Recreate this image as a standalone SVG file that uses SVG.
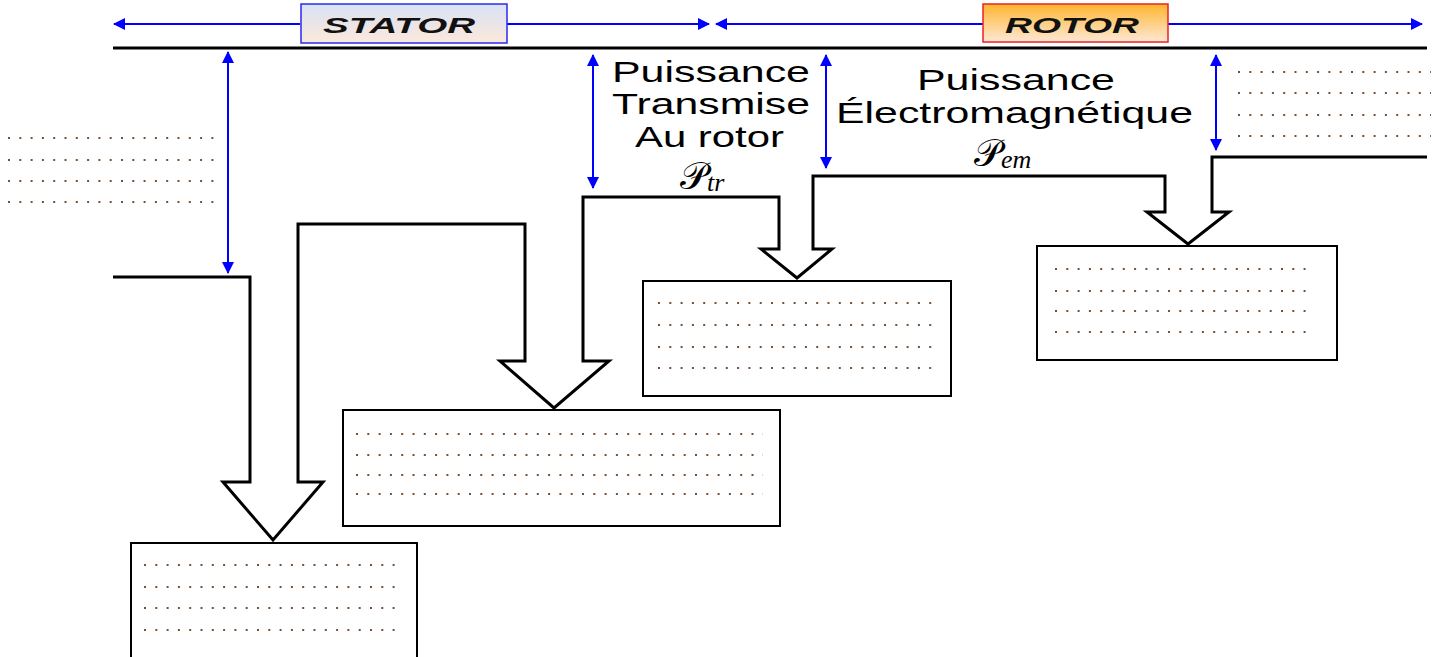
<svg xmlns="http://www.w3.org/2000/svg" width="1450" height="657" viewBox="0 0 1450 657">
<defs>
<linearGradient id="gStator" x1="0" y1="0" x2="0" y2="1"><stop offset="0" stop-color="#d8e2f6"/><stop offset="1" stop-color="#fce8da"/></linearGradient>
<linearGradient id="gRotor" x1="0" y1="0" x2="0" y2="1"><stop offset="0" stop-color="#ffb52e"/><stop offset="1" stop-color="#fde8d6"/></linearGradient>
<marker id="ah" viewBox="0 0 12 12" refX="11" refY="6" markerWidth="12" markerHeight="12" markerUnits="userSpaceOnUse" orient="auto-start-reverse"><path d="M0,0 L12,6 L0,12 Z" fill="#0000ff"/></marker>
<style>
.blue{stroke:#0000ff;stroke-width:2;fill:none;marker-start:url(#ah);marker-end:url(#ah)}
.flow{stroke:#000;stroke-width:3;fill:none;stroke-linejoin:miter}
.box{fill:#fff;stroke:#000;stroke-width:2}
.dots{stroke:#7a5030;stroke-width:2;stroke-dasharray:2 9.3}
.lbl{font-family:"Liberation Sans",Arial,sans-serif;font-size:30px;fill:#000}
.tag{font-family:"Liberation Sans",Arial,sans-serif;font-size:22px;font-weight:bold;font-style:italic;fill:#111}
.scr{font-family:"DejaVu Serif","DejaVu Sans",serif;font-size:38px;fill:#000}
.sub{font-family:"Liberation Serif","Times New Roman",serif;font-style:italic;font-size:26px;fill:#000}
</style>
</defs>
<rect width="1450" height="657" fill="#fff"/>

<g id="connectors">
<line class="blue" x1="114" y1="24" x2="300" y2="24" style="marker-end:none"/>
<line class="blue" x1="507" y1="24" x2="709" y2="24" style="marker-start:none"/>
<line class="blue" x1="716" y1="24" x2="983" y2="24" style="marker-end:none"/>
<line class="blue" x1="1168" y1="24" x2="1422" y2="24" style="marker-start:none"/>
<line x1="113" y1="48" x2="1427" y2="48" stroke="#000" stroke-width="3"/>
<line class="blue" x1="228" y1="52" x2="228" y2="273"/>
<line class="blue" x1="593" y1="55" x2="593" y2="188"/>
<line class="blue" x1="826" y1="55" x2="826" y2="168"/>
<line class="blue" x1="1216" y1="55" x2="1216" y2="150"/>
<path class="flow" d="M113,277 H250 V482 H223 L273,540 L323,482 H298 V224 H525 V361 H500 L554,408 L609,361 H583 V197 H779 V249 H761 L797,278 L832,249 H813 V176 H1165 V212 H1147 L1188,244 L1229,212 H1212 V157 H1427"/>
</g>

<g id="stator">
<rect x="301" y="4" width="206" height="39" fill="url(#gStator)" stroke="#2a2af0" stroke-width="1.5"/>
<text class="tag" x="323" y="33" textLength="152" lengthAdjust="spacingAndGlyphs">STATOR</text>
</g>
<g id="rotor">
<rect x="983" y="4" width="185" height="38" fill="url(#gRotor)" stroke="#ee2020" stroke-width="1.5"/>
<text class="tag" x="1005" y="33" textLength="134" lengthAdjust="spacingAndGlyphs">ROTOR</text>
</g>

<g id="label-ptr">
<text class="lbl" x="612" y="82" textLength="198" lengthAdjust="spacingAndGlyphs">Puissance</text>
<text class="lbl" x="612" y="114" textLength="198" lengthAdjust="spacingAndGlyphs">Transmise</text>
<text class="lbl" x="635" y="147" textLength="149" lengthAdjust="spacingAndGlyphs">Au rotor</text>
<text x="680" y="189"><tspan class="scr">𝒫</tspan><tspan class="sub" dy="2">tr</tspan></text>
</g>
<g id="label-pem">
<text class="lbl" x="917" y="90" textLength="198" lengthAdjust="spacingAndGlyphs">Puissance</text>
<text class="lbl" x="836" y="123" textLength="357" lengthAdjust="spacingAndGlyphs">Électromagnétique</text>
<text x="974" y="166"><tspan class="scr">𝒫</tspan><tspan class="sub" dy="2">em</tspan></text>
</g>

<g id="notes-left">
<line class="dots" x1="8" y1="138" x2="218" y2="138"/>
<line class="dots" x1="8" y1="160" x2="218" y2="160"/>
<line class="dots" x1="8" y1="181" x2="218" y2="181"/>
<line class="dots" x1="8" y1="202" x2="218" y2="202"/>
</g>
<g id="notes-right">
<line class="dots" x1="1238" y1="72" x2="1431" y2="72"/>
<line class="dots" x1="1238" y1="93" x2="1431" y2="93"/>
<line class="dots" x1="1238" y1="115" x2="1431" y2="115"/>
<line class="dots" x1="1238" y1="136" x2="1431" y2="136"/>
</g>

<g id="box1">
<rect class="box" x="131" y="543" width="286" height="130"/>
<line class="dots" x1="144" y1="565" x2="399" y2="565"/>
<line class="dots" x1="144" y1="587" x2="399" y2="587"/>
<line class="dots" x1="144" y1="608" x2="399" y2="608"/>
<line class="dots" x1="144" y1="630" x2="399" y2="630"/>
</g>
<g id="box2">
<rect class="box" x="343" y="410" width="437" height="116"/>
<line class="dots" x1="356" y1="434" x2="763" y2="434"/>
<line class="dots" x1="356" y1="455" x2="763" y2="455"/>
<line class="dots" x1="356" y1="475" x2="763" y2="475"/>
<line class="dots" x1="356" y1="494" x2="763" y2="494"/>
</g>
<g id="box3">
<rect class="box" x="643" y="281" width="308" height="115"/>
<line class="dots" x1="658" y1="303" x2="937" y2="303"/>
<line class="dots" x1="658" y1="325" x2="937" y2="325"/>
<line class="dots" x1="658" y1="347" x2="937" y2="347"/>
<line class="dots" x1="658" y1="368" x2="937" y2="368"/>
</g>
<g id="box4">
<rect class="box" x="1037" y="246" width="300" height="114"/>
<line class="dots" x1="1055" y1="269" x2="1309" y2="269"/>
<line class="dots" x1="1055" y1="291" x2="1309" y2="291"/>
<line class="dots" x1="1055" y1="311" x2="1309" y2="311"/>
<line class="dots" x1="1055" y1="332" x2="1309" y2="332"/>
</g>
</svg>
